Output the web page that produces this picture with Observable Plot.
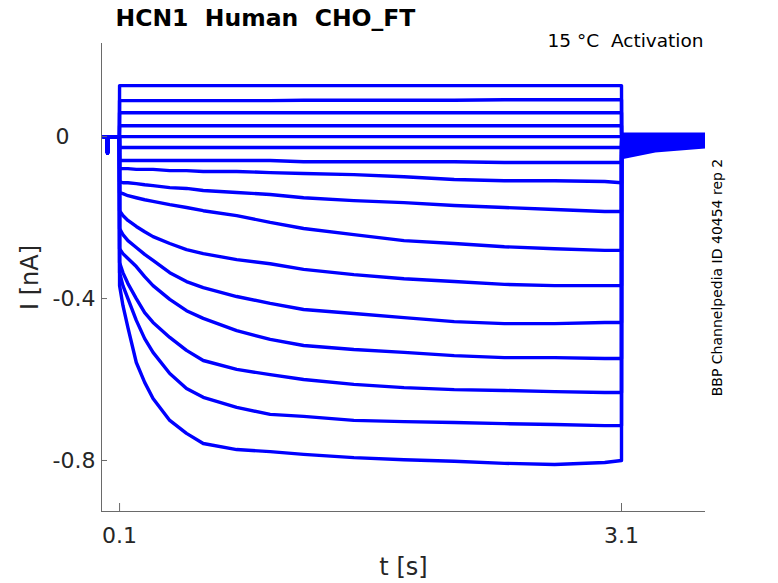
<!DOCTYPE html>
<html>
<head>
<meta charset="utf-8">
<script src="https://cdn.jsdelivr.net/npm/d3@7"></script>
<script src="https://cdn.jsdelivr.net/npm/@observablehq/plot@0.6"></script>
<style>
  html, body { margin: 0; padding: 0; background: #fff; }
  svg { display: block; }
</style>
</head>
<body>
<div id="chart"></div>
<script>
// ---- data ----
const titleText = "HCN1  Human  CHO_FT";
const conditionText = "15 °C  Activation";
const sideText = "BBP Channelpedia ID 40454 rep 2";
const xLabel = "t [s]";
const yLabel = "I [nA]";

const xTicks = [0.1, 3.1];
const xTickLabels = ["0.1", "3.1"];
const yTicks = [-0.8, -0.4];
const yTickLabels = ["-0.8", "-0.4"];
const yZeroTick = [0];
const yZeroLabel = ["0"];

const xDomain = [-0.008, 3.602];
const yDomain = [-0.926, 0.23];

// holding period before the step (s, nA)
const preT = [0, 0.024, 0.028, 0.032, 0.099];
const preI = [0, 0, -0.04, 0, 0];

// time grid of the test step (s)
const stepT = [0.1, 0.12, 0.15, 0.2, 0.25, 0.3, 0.4, 0.5, 0.6, 0.8, 1.0, 1.2, 1.5, 1.8, 2.1, 2.4, 2.7, 3.0, 3.1];

// current during each step sweep (nA), top to bottom
const sweep01 = [0.126,0.126,0.126,0.126,0.126,0.126,0.126,0.126,0.126,0.126,0.126,0.126,0.126,0.126,0.126,0.126,0.126,0.126,0.126];
const sweep02 = [0.089,0.089,0.089,0.089,0.089,0.089,0.089,0.089,0.089,0.089,0.089,0.090,0.090,0.090,0.090,0.091,0.091,0.091,0.091];
const sweep03 = [0.059,0.059,0.059,0.059,0.059,0.059,0.059,0.059,0.059,0.059,0.059,0.059,0.059,0.059,0.059,0.059,0.059,0.059,0.059];
const sweep04 = [0.027,0.027,0.027,0.027,0.027,0.027,0.027,0.027,0.027,0.027,0.027,0.027,0.027,0.027,0.027,0.027,0.027,0.027,0.027];
const sweep05 = [0.000,0.000,0.000,0.000,0.000,0.000,0.000,0.000,0.000,0.000,0.000,0.000,0.000,0.000,0.000,0.000,0.000,0.000,0.000];
const sweep06 = [-0.027,-0.027,-0.027,-0.027,-0.027,-0.027,-0.027,-0.027,-0.027,-0.027,-0.027,-0.027,-0.027,-0.027,-0.027,-0.027,-0.027,-0.027,-0.027];
const sweep07 = [-0.059,-0.059,-0.059,-0.059,-0.059,-0.059,-0.059,-0.059,-0.059,-0.059,-0.059,-0.062,-0.062,-0.062,-0.062,-0.064,-0.064,-0.064,-0.064];
const sweep08 = [-0.079,-0.079,-0.079,-0.081,-0.081,-0.081,-0.084,-0.084,-0.086,-0.086,-0.089,-0.091,-0.094,-0.099,-0.106,-0.109,-0.109,-0.111,-0.114];
const sweep09 = [-0.111,-0.114,-0.114,-0.116,-0.119,-0.121,-0.126,-0.128,-0.133,-0.138,-0.143,-0.151,-0.158,-0.163,-0.170,-0.175,-0.180,-0.185,-0.185];
const sweep10 = [-0.138,-0.141,-0.146,-0.151,-0.156,-0.160,-0.168,-0.175,-0.183,-0.195,-0.212,-0.227,-0.242,-0.257,-0.264,-0.272,-0.277,-0.281,-0.281];
const sweep11 = [-0.183,-0.195,-0.207,-0.222,-0.235,-0.247,-0.264,-0.279,-0.289,-0.304,-0.314,-0.328,-0.341,-0.351,-0.358,-0.365,-0.368,-0.368,-0.368];
const sweep12 = [-0.227,-0.242,-0.257,-0.274,-0.291,-0.306,-0.336,-0.358,-0.373,-0.395,-0.412,-0.427,-0.437,-0.447,-0.457,-0.462,-0.462,-0.459,-0.459];
const sweep13 = [-0.277,-0.289,-0.301,-0.321,-0.346,-0.368,-0.402,-0.430,-0.449,-0.479,-0.501,-0.516,-0.526,-0.533,-0.541,-0.546,-0.546,-0.548,-0.548];
const sweep14 = [-0.311,-0.336,-0.363,-0.400,-0.435,-0.459,-0.496,-0.528,-0.553,-0.575,-0.588,-0.600,-0.612,-0.620,-0.625,-0.627,-0.630,-0.632,-0.632];
const sweep15 = [-0.336,-0.368,-0.400,-0.454,-0.499,-0.533,-0.585,-0.622,-0.644,-0.669,-0.686,-0.691,-0.701,-0.704,-0.706,-0.709,-0.711,-0.714,-0.714];
const sweep16 = [-0.368,-0.417,-0.472,-0.558,-0.607,-0.647,-0.701,-0.733,-0.758,-0.773,-0.778,-0.785,-0.793,-0.798,-0.802,-0.807,-0.810,-0.805,-0.800];

// tail currents after the step (s, nA per sweep)
const tailT = [3.1005, 3.3, 3.6];
const tailStart = [0.006,0.005,0.004,0.003,0.002,0.000,-0.003,-0.006,-0.010,-0.015,-0.020,-0.026,-0.032,-0.038,-0.045,-0.052];
const tailMid   = [0.006,0.005,0.004,0.003,0.002,0.000,-0.002,-0.005,-0.008,-0.011,-0.015,-0.019,-0.023,-0.027,-0.031,-0.035];
const tailEnd   = [0.006,0.005,0.004,0.003,0.002,0.000,-0.002,-0.004,-0.006,-0.008,-0.011,-0.014,-0.017,-0.020,-0.023,-0.025];

const sweeps = [sweep01,sweep02,sweep03,sweep04,sweep05,sweep06,sweep07,sweep08,
                sweep09,sweep10,sweep11,sweep12,sweep13,sweep14,sweep15,sweep16];

// ---- build a tidy table ----
const rows = [];
sweeps.forEach((sw, k) => {
  preT.forEach((t, j) => rows.push({k, t, i: preI[j]}));
  stepT.forEach((t, j) => rows.push({k, t, i: sw[j]}));
  const tails = [tailStart[k], tailMid[k], tailEnd[k]];
  tailT.forEach((t, j) => rows.push({k, t, i: tails[j]}));
});

const font = "DejaVu Sans, Liberation Sans, sans-serif";
const axisColor = "#6a6a6a";
const textColor = "#262626";

const chart = Plot.plot({
  width: 778,
  height: 583,
  marginLeft: 101,
  marginRight: 73,
  marginTop: 43,
  marginBottom: 72,
  style: {fontFamily: font, background: "#fff", overflow: "visible"},
  x: {domain: xDomain, axis: null},
  y: {domain: yDomain, axis: null},
  marks: [
    Plot.line(rows, {x: "t", y: "i", z: "k", stroke: "#0000ff", strokeWidth: 3.4, clip: true}),
    // axis lines
    Plot.ruleX([xDomain[0]], {stroke: axisColor, strokeWidth: 1}),
    Plot.ruleY([yDomain[0]], {stroke: axisColor, strokeWidth: 1}),
    // inward ticks
    Plot.tickX(xTicks, {x: d => d, stroke: axisColor, insetTop: 460}),
    Plot.tickY(yTicks.concat(yZeroTick), {y: d => d, stroke: axisColor, insetRight: 598}),
    // tick labels
    Plot.text(xTicks, {x: d => d, text: (d, i) => xTickLabels[i], frameAnchor: "bottom", dy: 24,
      textAnchor: "middle", lineAnchor: "middle", fontSize: 22, fill: textColor}),
    Plot.text(yTicks, {y: d => d, text: (d, i) => yTickLabels[i], frameAnchor: "left", dx: -6,
      textAnchor: "end", lineAnchor: "middle", fontSize: 22, fill: textColor}),
    Plot.text(yZeroTick, {y: d => d, text: (d, i) => yZeroLabel[i], frameAnchor: "left", dx: -32,
      textAnchor: "end", lineAnchor: "middle", fontSize: 22, fill: textColor}),
    // axis labels
    Plot.text([xLabel], {frameAnchor: "bottom", dy: 56, fontSize: 24, fill: textColor,
      textAnchor: "middle", lineAnchor: "middle"}),
    Plot.text([yLabel], {frameAnchor: "left", dx: -71, rotate: -90, fontSize: 24, fill: textColor,
      textAnchor: "middle", lineAnchor: "middle"}),
    // title and annotations
    Plot.text([titleText], {frameAnchor: "top-left", dx: 14, dy: -25, textAnchor: "start", lineAnchor: "middle",
      fontSize: 23.5, fontWeight: "bold", fill: "#000"}),
    Plot.text([conditionText], {frameAnchor: "top-right", dx: -2, dy: -2, textAnchor: "end", lineAnchor: "middle",
      fontSize: 18.5, fill: "#000"}),
    Plot.text([sideText], {frameAnchor: "right", dx: 12, rotate: -90, textAnchor: "middle", lineAnchor: "middle",
      fontSize: 14, fill: "#000"})
  ]
});
document.getElementById("chart").appendChild(chart);
</script>
</body>
</html>
